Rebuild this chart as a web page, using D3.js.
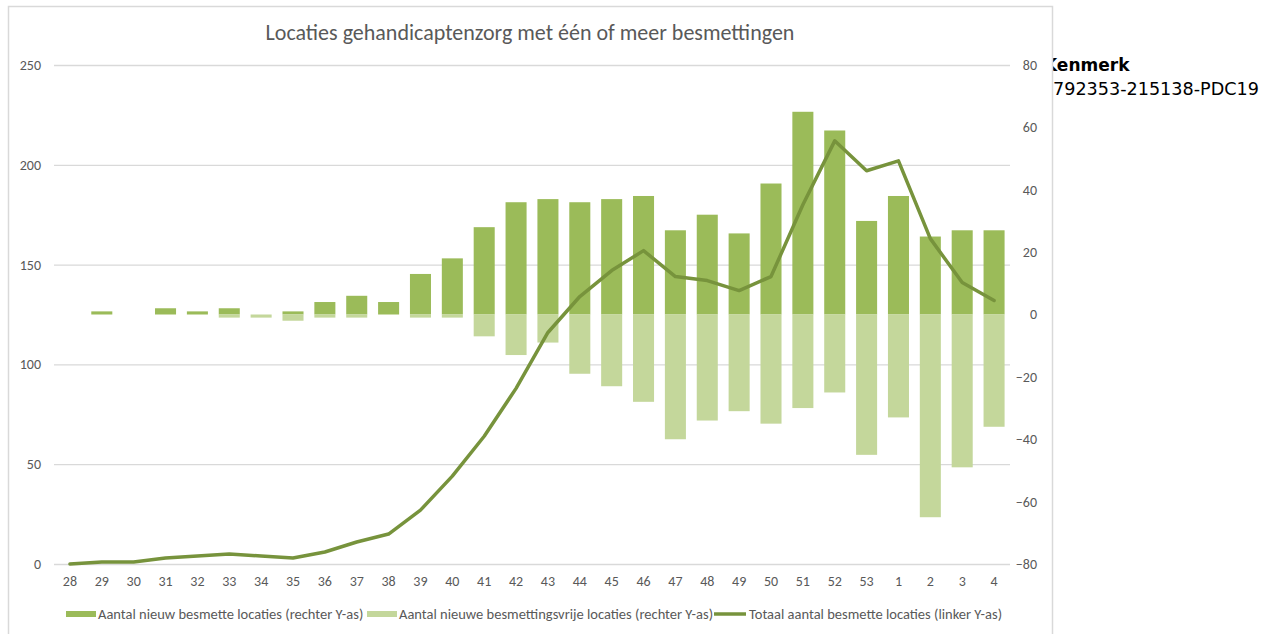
<!DOCTYPE html>
<html>
<head>
<meta charset="utf-8">
<script src="https://cdn.jsdelivr.net/npm/d3@7"></script>
<style>
  body { margin: 0; background: #fff; }
  svg text { font-family: Calibri, Carlito, "Liberation Sans Narrow", "Open Sans", sans-serif; }
</style>
</head>
<body>
<div id="chart"></div>
<script>
// weken (2020 -> 2021)
var weken = ["28","29","30","31","32","33","34","35","36","37","38","39","40","41","42","43","44","45","46","47","48","49","50","51","52","53","1","2","3","4"];
// rechter Y-as
var nieuwBesmet = [0,1,0,2,1,2,0,1,4,6,4,13,18,28,36,37,36,37,38,27,32,26,42,65,59,30,38,25,27,27];
var besmettingsvrij = [0,0,0,0,0,-1,-1,-2,-1,-1,0,-1,-1,-7,-13,-9,-19,-23,-28,-40,-34,-31,-35,-30,-25,-45,-33,-65,-49,-36];
// linker Y-as
var totaalBesmet = [0,1,1,3,4,5,4,3,6,11,15,27,44,64,88,116,134,147,157,144,142,137,144,180,212,197,202,163,141,132];

var leftTicks = [0,50,100,150,200,250];
var rightTicks = [-80,-60,-40,-20,0,20,40,60,80];
var titel = "Locaties gehandicaptenzorg met één of meer besmettingen";
var legendLabels = ["Aantal nieuw besmette locaties (rechter Y-as)", "Aantal nieuwe besmettingsvrije locaties (rechter Y-as)", "Totaal aantal besmette locaties (linker Y-as)"];

var W = 1274, H = 634;
var plot = {left: 54, right: 1010, top: 65, bottom: 564};
var donker = "#9BBB59", licht = "#C4D79B", lijn = "#77933C", tekst = "#595959", grid = "#D9D9D9";

var svg = d3.select("#chart").append("svg")
  .attr("width", W)
  .attr("height", H);

// kenmerk tekst achter het grafiekvlak
svg.append("text")
  .attr("x", 1044).attr("y", 71)
  .style("font-family", "'DejaVu Sans', Verdana, sans-serif")
  .style("font-weight", "bold")
  .style("font-size", "17px")
  .text("Kenmerk");
svg.append("text")
  .attr("x", 1053).attr("y", 95)
  .style("font-family", "'DejaVu Sans', Verdana, sans-serif")
  .style("font-size", "17.6px")
  .text("792353-215138-PDC19");

// grafiekvlak
svg.append("rect")
  .attr("x", 8.5).attr("y", 6.5)
  .attr("width", 1044).attr("height", 700)
  .attr("fill", "#fff")
  .attr("stroke", grid)
  .attr("stroke-width", 1.5);

var x = d3.scaleBand()
  .domain(weken)
  .range([plot.left, plot.right])
  .paddingInner(0.34)
  .paddingOuter(0.17);

var yL = d3.scaleLinear().domain([0, 250]).range([plot.bottom, plot.top]);
var yR = d3.scaleLinear().domain([-80, 80]).range([plot.bottom, plot.top]);

// rasterlijnen (linker as)
svg.append("g")
  .attr("class", "grid")
  .attr("transform", "translate(" + plot.left + ",0)")
  .call(d3.axisLeft(yL).tickValues(leftTicks).tickSize(-(plot.right - plot.left)).tickFormat(""))
  .call(function(g) { g.select(".domain").remove(); })
  .selectAll("line").attr("stroke", grid).attr("stroke-width", 1.3);

// linker as labels
svg.append("g")
  .attr("transform", "translate(" + 41 + ",0)")
  .call(d3.axisLeft(yL).tickValues(leftTicks).tickSize(0).tickPadding(0))
  .call(function(g) { g.select(".domain").remove(); })
  .selectAll("text").attr("fill", tekst).style("font-size", "14px");

// rechter as labels
svg.append("g")
  .attr("transform", "translate(" + 1037 + ",0)")
  .call(d3.axisLeft(yR).tickValues(rightTicks).tickSize(0).tickPadding(0))
  .call(function(g) { g.select(".domain").remove(); })
  .selectAll("text").attr("fill", tekst).style("font-size", "14px");

// x-as labels
svg.append("g")
  .attr("transform", "translate(0," + 576 + ")")
  .call(d3.axisBottom(x).tickSize(0).tickPadding(0))
  .call(function(g) { g.select(".domain").remove(); })
  .selectAll("text").attr("fill", tekst).style("font-size", "14px");

// staven
var rows = weken.map(function(w, i) {
  return {week: w, nieuw: nieuwBesmet[i], vrij: besmettingsvrij[i], totaal: totaalBesmet[i]};
});

svg.append("g").selectAll("rect")
  .data(rows)
  .enter().append("rect")
  .attr("x", function(d) { return x(d.week); })
  .attr("width", x.bandwidth())
  .attr("y", function(d) { return yR(d.nieuw); })
  .attr("height", function(d) { return yR(0) - yR(d.nieuw); })
  .attr("fill", donker);

svg.append("g").selectAll("rect")
  .data(rows)
  .enter().append("rect")
  .attr("x", function(d) { return x(d.week); })
  .attr("width", x.bandwidth())
  .attr("y", yR(0))
  .attr("height", function(d) { return yR(d.vrij) - yR(0); })
  .attr("fill", licht);

// lijn
var line = d3.line()
  .x(function(d) { return x(d.week) + x.bandwidth() / 2; })
  .y(function(d) { return yL(d.totaal); });

svg.append("path")
  .datum(rows)
  .attr("d", line)
  .attr("fill", "none")
  .attr("stroke", lijn)
  .attr("stroke-width", 3.5)
  .attr("stroke-linejoin", "round")
  .attr("stroke-linecap", "round");

// titel
svg.append("text")
  .attr("x", 530).attr("y", 40)
  .attr("text-anchor", "middle")
  .attr("fill", tekst)
  .style("font-size", "22px")
  .text(titel);

// legenda
var legendX = [66, 367, 714];
var legend = svg.append("g").selectAll("g")
  .data(legendLabels)
  .enter().append("g")
  .attr("transform", function(d, i) { return "translate(" + legendX[i] + ",614)"; });

legend.each(function(d, i) {
  var g = d3.select(this);
  if (i < 2) {
    g.append("rect").attr("x", 0).attr("y", -3).attr("width", 30).attr("height", 6)
      .attr("fill", i == 0 ? donker : licht);
  } else {
    g.append("line").attr("x1", 0).attr("x2", 32).attr("y1", 0).attr("y2", 0)
      .attr("stroke", lijn).attr("stroke-width", 3.5);
  }
  g.append("text")
    .attr("x", i < 2 ? 32 : 35)
    .attr("y", 0)
    .attr("dy", "0.35em")
    .attr("fill", tekst)
    .style("font-size", "14.5px")
    .text(d);
});
</script>
</body>
</html>
